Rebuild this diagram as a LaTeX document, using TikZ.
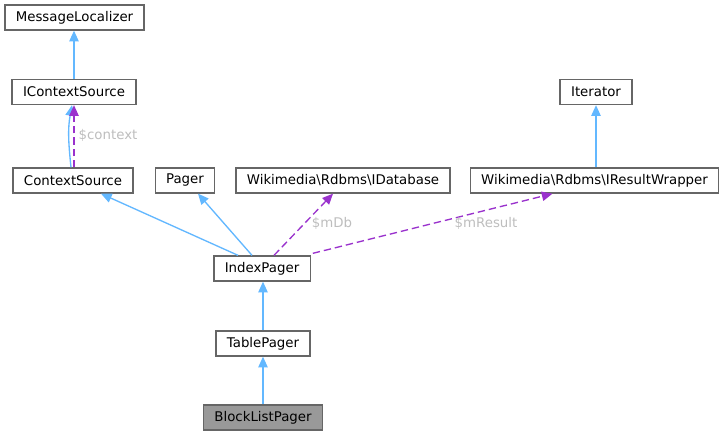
\documentclass[tikz,border=0pt]{standalone}
\usepackage{fontspec}
\setmainfont{DejaVu Sans}
\usetikzlibrary{arrows.meta,calc}
\definecolor{inhblue}{HTML}{63B8FF}
\definecolor{usepurple}{HTML}{9A32CD}
\definecolor{boxgray}{HTML}{666666}
\definecolor{lblgray}{HTML}{BEBEBE}
\definecolor{fillgray}{HTML}{999999}
\begin{document}
\begin{tikzpicture}[x=0.75pt,y=-0.75pt,
  cls/.style={draw=boxgray, line width=1pt, fill=white, inner xsep=8.2pt, inner ysep=0pt,
    minimum height=18.75pt, font=\fontsize{10}{12}\selectfont, text=black},
  inh/.style={draw=inhblue, line width=1pt, -{Triangle[length=8pt,width=7pt]}},
  usage/.style={draw=usepurple, line width=1pt, dash pattern=on 5.5pt off 3pt,
    -{Triangle[length=8pt,width=7pt]}},
  lbl/.style={text=lblgray, font=\fontsize{10}{12}\selectfont, inner sep=0pt}]
\useasboundingbox[fill=white] (0,0) rectangle (724,436);

\node[cls] (ML)  at (74.5,17.5)  {MessageLocalizer};
\node[cls] (ICS) at (74,92)      {IContextSource};
\node[cls] (CS)  at (73,180.5)   {ContextSource};
\node[cls] (PG)  at (185,180.5)  {Pager};
\node[cls] (IDB) at (343,180.5)  {Wikimedia\textbackslash Rdbms\textbackslash IDatabase};
\node[cls] (IT)  at (596,92)     {Iterator};
\node[cls] (IRW) at (594.5,180.5){Wikimedia\textbackslash Rdbms\textbackslash IResultWrapper};
\node[cls] (IP)  at (262,268.5)  {IndexPager};
\node[cls] (TP)  at (263,343.5)  {TablePager};
\node[cls, fill=fillgray] (BLP) at (263,417.5) {BlockListPager};

% inheritance
\draw[inh] (ICS.north) -- (ICS.north |- ML.south);
\draw[inh] ($(CS.north)+(-2,0)$) .. controls ($(CS.north)+(-5,-28)$) and ($(CS.north)+(-5,-40)$) .. ($(ICS.south)+(-2,0)$);
\draw[usage] ($(CS.north)+(1,0)$) -- node[lbl, anchor=west, pos=0.52, xshift=3pt] {\$context} ($(ICS.south)+(0,0)$);
\draw[inh] ($(IP.north)+(-24,0)$) -- ($(CS.south)+(28,0)$);
\draw[inh] ($(IP.north)+(-10,0)$) -- ($(PG.south)+(13,0)$);
\draw[inh] (IT.south |- IRW.north) -- (IT.south);
\draw[inh] (TP.north) -- (TP.north |- IP.south);
\draw[inh] (BLP.north) -- (BLP.north |- TP.south);

% usage
\draw[usage] ($(IP.north)+(12,0)$) -- ($(IDB.south)+(-10,0)$);
\node[lbl] (LDB) at (332,223) {\$mDb};
\draw[usage] ($(IP.north east)+(2,-2)$) -- ($(IRW.south)+(-42,0)$);
\node[lbl] (LRS) at (486,223) {\$mResult};
\end{tikzpicture}
\end{document}
